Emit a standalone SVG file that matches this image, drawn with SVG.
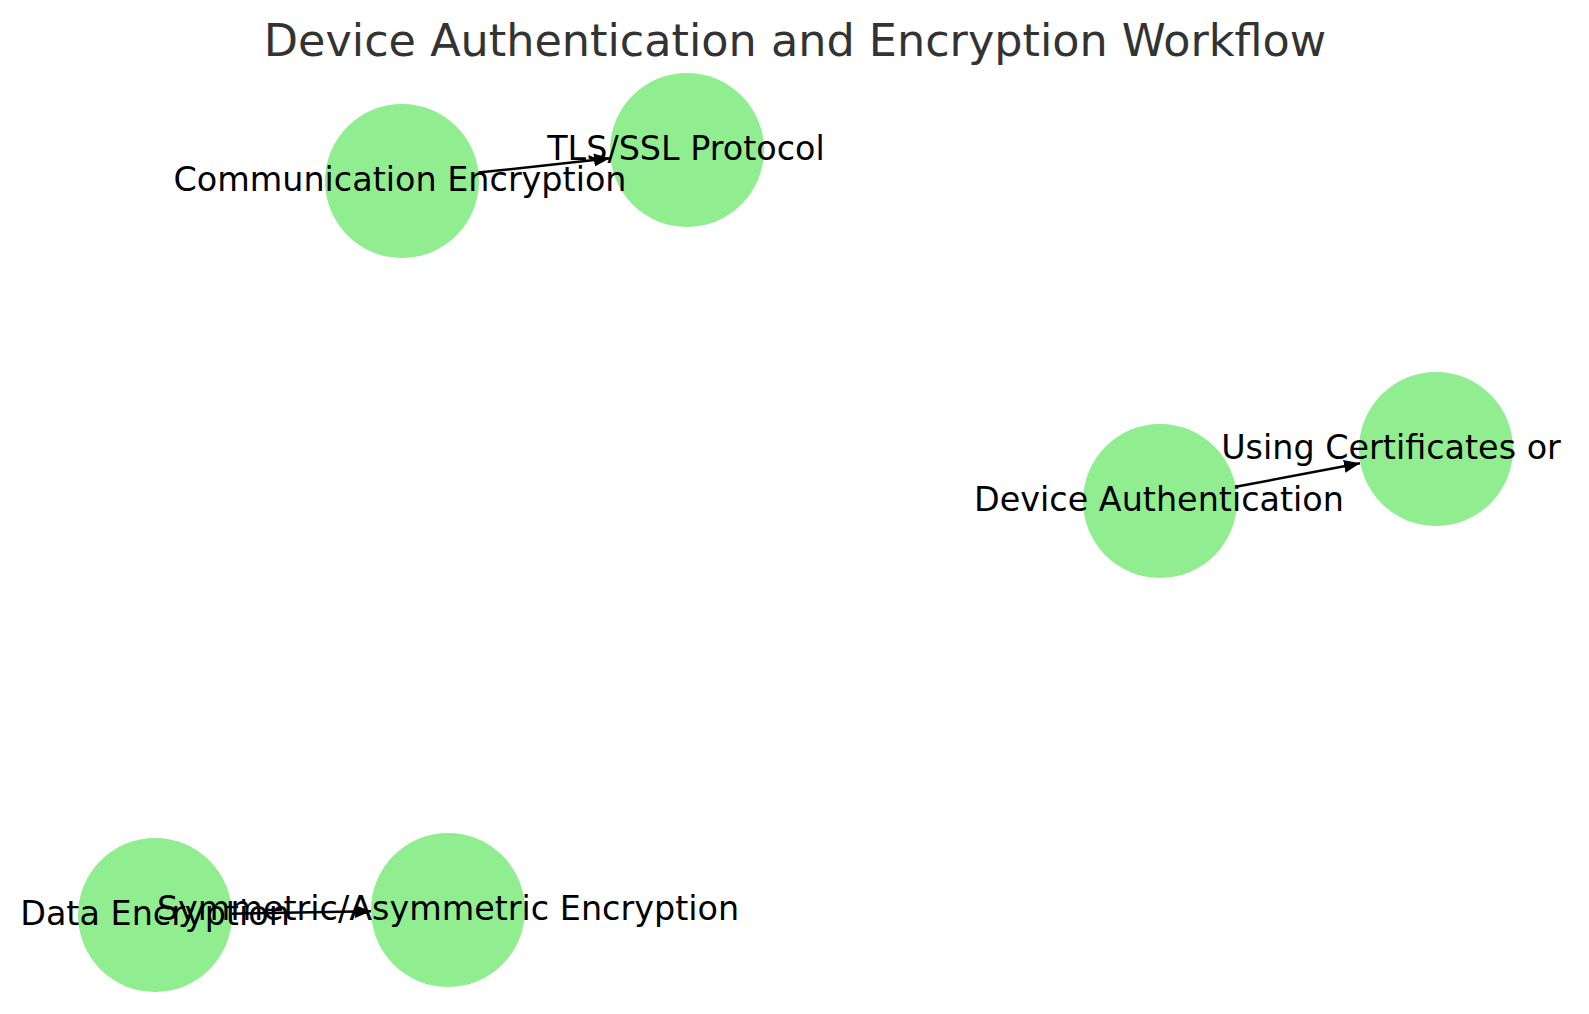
<svg xmlns="http://www.w3.org/2000/svg" width="1589" height="1014" viewBox="0 0 1589 1014">
  <style>
    .node { fill: #90EE90; }
    .label { font-family: "DejaVu Sans", sans-serif; font-size: 33.4px; fill: #000; text-anchor: middle; }
    .title { font-family: "DejaVu Sans", sans-serif; font-size: 44.5px; fill: #333333; text-anchor: middle; }
    .edge { stroke: #000; stroke-width: 2.5; fill: none; }
  </style>
  <defs>
    <marker id="arrow" markerUnits="userSpaceOnUse" markerWidth="18" markerHeight="14" refX="16" refY="6.5" orient="auto">
      <path d="M0,0 L16,6.5 L0,13 z" fill="#000"/>
    </marker>
  </defs>
  <rect width="1589" height="1014" fill="#fff"/>
  <text class="title" x="795" y="56">Device Authentication and Encryption Workflow</text>

  <g id="node-communication-encryption">
    <circle class="node" cx="402" cy="181" r="77"/>
  </g>
  <g id="node-tls-ssl">
    <circle class="node" cx="687" cy="150" r="77"/>
  </g>
  <g id="node-device-authentication">
    <circle class="node" cx="1160" cy="501" r="77"/>
  </g>
  <g id="node-using-certificates">
    <circle class="node" cx="1436" cy="449" r="77"/>
  </g>
  <g id="node-data-encryption">
    <circle class="node" cx="155" cy="915" r="77"/>
  </g>
  <g id="node-symmetric">
    <circle class="node" cx="448" cy="910" r="77"/>
  </g>

  <g id="connectors">
    <line class="edge" x1="478.5" y1="172.6" x2="610" y2="158.3" marker-end="url(#arrow)"/>
    <line class="edge" x1="1235.7" y1="486.8" x2="1360" y2="463.3" marker-end="url(#arrow)"/>
    <line class="edge" x1="232" y1="913.7" x2="371" y2="911.3" marker-end="url(#arrow)"/>
  </g>

  <g id="labels">
    <text class="label" x="400" y="191">Communication Encryption</text>
    <text class="label" x="686" y="160">TLS/SSL Protocol</text>
    <text class="label" x="1159" y="511">Device Authentication</text>
    <text class="label" x="1391" y="459">Using Certificates or</text>
    <text class="label" x="155" y="925">Data Encryption</text>
    <text class="label" x="448" y="920">Symmetric/Asymmetric Encryption</text>
  </g>
</svg>
